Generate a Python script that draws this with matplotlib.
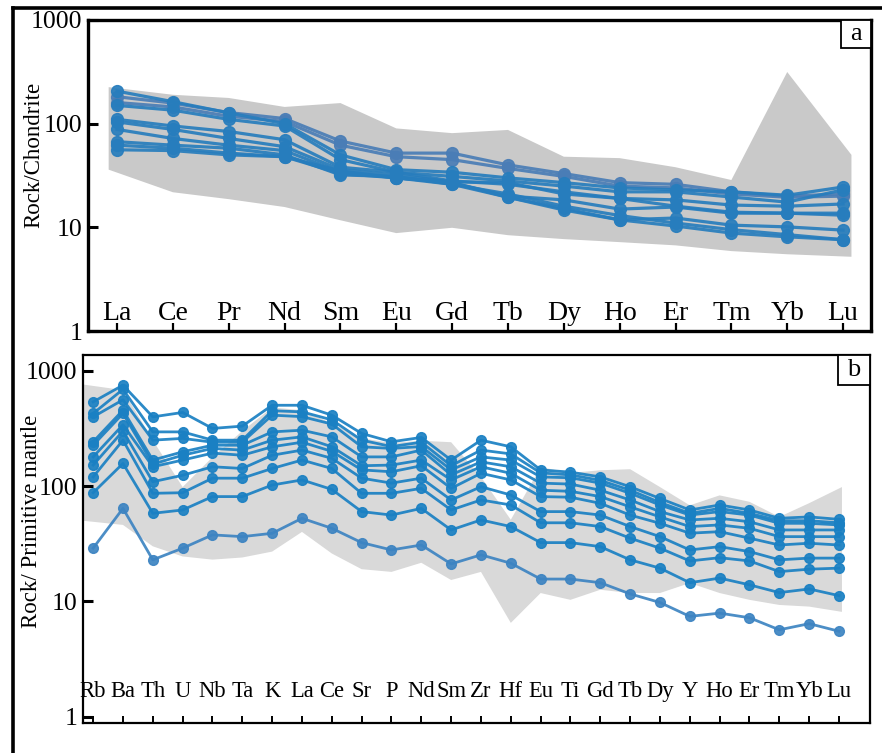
import numpy as np
import matplotlib
matplotlib.use("Agg")
import matplotlib.pyplot as plt
from matplotlib.lines import Line2D
from matplotlib.patches import Rectangle

plt.rcParams['font.family'] = ['Liberation Serif', 'DejaVu Serif']

# --- (a) Chondrite-normalised REE ---
ree = ["La", "Ce", "Pr", "Nd", "Sm", "Eu", "Gd", "Tb", "Dy", "Ho", "Er", "Tm", "Yb", "Lu"]

ree_env_hi = [225, 190, 177, 145, 158, 90, 81, 87, 48, 46.5, 38, 28.6, 315, 50]
ree_env_lo = [36, 21.8, 18.7, 15.7, 11.7, 8.8, 9.9, 8.4, 7.7, 7.2, 6.7, 5.9, 5.5, 5.2]

ree_samples = [
    [182, 158, 128, 112, 68, 52, 52, 40, 33, 27, 26, 22, 20, 21],
    [160, 145, 118, 105, 62, 48, 45, 37, 31, 25, 24, 21, 19.5, 20],
    [206, 163, 127, 100, 50, 36, 34, 30, 27, 24, 23, 22, 20.4, 24.5],
    [150, 135, 110, 95, 45, 34, 31, 28, 25, 22, 22, 19.6, 17.5, 23],
    [110, 95, 84, 70, 38, 34, 28, 26, 22, 19, 18.4, 16.4, 16, 16.8],
    [104, 88, 72, 60, 36, 32, 27.5, 27, 21, 19, 16, 14, 13.7, 13.7],
    [88, 72, 62, 55, 34, 30, 27, 20, 18.4, 15, 15.7, 13.7, 13.7, 13.1],
    [67, 62, 58, 50, 32, 31, 26, 19.5, 15.2, 11.8, 12.3, 10.5, 10.1, 9.4],
    [62, 58, 52, 48, 33, 30, 27, 19.5, 14.7, 11.8, 10.3, 8.8, 8.1, 7.6],
    [56, 55, 50, 48, 35, 30, 26, 21, 16, 13, 11, 9.5, 8.5, 7.6],
]
ree_colors = ["#4a7db6", "#4a7db6", "#277dbd", "#277dbd", "#277dbd",
              "#277dbd", "#277dbd", "#277dbd", "#277dbd", "#277dbd"]

# --- (b) Primitive-mantle-normalised spider diagram ---
spider = ["Rb", "Ba", "Th", "U", "Nb", "Ta", "K", "La", "Ce", "Sr", "P", "Nd", "Sm",
          "Zr", "Hf", "Eu", "Ti", "Gd", "Tb", "Dy", "Y", "Ho", "Er", "Tm", "Yb", "Lu"]

spider_env_hi = [760, 680, 250, 98, 178, 300, 480, 455, 350, 260, 236, 247, 240,
                 120, 51, 146, 130, 137, 140, 98, 68, 83, 73, 54, 71, 98]
spider_env_lo = [50, 46, 30, 24.5, 23, 24, 27, 40, 26, 19, 18, 21.6, 15.3,
                 18, 6.5, 11.8, 10.3, 12.6, 11.8, 11.8, 14.4, 11.8, 10.3, 9.3, 9, 8.1]

spider_samples = [
    [537, 750, 398, 435, 316, 331, 502, 502, 412, 286, 242, 264, 168, 250, 219, 138, 132, 120, 98.6, 78, 62, 68.5, 62, 52.5, 54, 51.4],
    [426, 690, 295, 295, 250, 250, 450, 440, 375, 250, 220, 240, 150, 205, 190, 130, 125, 112, 92, 72, 58, 64, 58, 50, 50, 48],
    [398, 560, 250, 259, 240, 240, 412, 400, 345, 219, 212, 220, 138, 179, 168, 120, 118, 106, 86.5, 68.5, 56, 60, 56, 47.5, 47.5, 46],
    [242, 455, 168, 198, 226, 226, 295, 305, 267, 179, 179, 205, 125, 162, 147, 106, 104, 92, 75.7, 60, 50.8, 52.5, 49, 41.6, 41.6, 41.6],
    [226, 426, 155, 185, 212, 205, 250, 267, 219, 150, 152, 168, 113, 147, 129, 92, 90, 81, 66, 54, 44.5, 46, 43, 36.4, 36.4, 36.4],
    [179, 340, 147, 168, 193, 185, 219, 240, 200, 138, 133, 150, 95.5, 129, 113, 81, 80, 70.8, 56, 47.5, 39, 40.2, 35.3, 30.8, 31.9, 30.8],
    [152, 300, 109, 124, 147, 142, 185, 205, 174, 117, 106, 117, 75.7, 98.6, 83.6, 60, 60, 56, 44.5, 36.4, 27.9, 29.8, 27, 22.9, 23.7, 23.7],
    [120, 250, 86.5, 87.5, 117, 117, 142, 168, 142, 86.5, 86.5, 95.5, 62, 75.7, 68.5, 48, 48, 44.5, 35.3, 28.9, 22.4, 23.9, 22.4, 18.1, 19, 19.4],
    [87.5, 157, 58, 62, 81, 81, 102, 113, 93.5, 60, 56, 64, 41.6, 50.8, 44.5, 32.3, 32.3, 29.8, 22.9, 19.4, 14.5, 15.9, 13.9, 11.9, 12.8, 11.2],
    [28.9, 64, 22.9, 28.9, 37.7, 36.4, 38.9, 52.5, 43, 32.3, 27.9, 30.8, 21.1, 25.3, 21.4, 15.6, 15.6, 14.5, 11.6, 9.77, 7.4, 7.9, 7.2, 5.66, 6.4, 5.5],
]
spider_colors = ["#1a80c3"] * 9 + ["#3d84c2"]


def style_axis(ax, labels, xlim, ylim, spine_w, tick_len_x, tick_w_x, lab_y, lab_size):
    ax.set_yscale("log")
    ax.set_xlim(*xlim)
    ax.set_ylim(*ylim)
    ax.set_xticks(np.arange(len(labels)))
    ax.set_xticklabels([])
    ax.set_yticks([1, 10, 100, 1000])
    ax.set_yticklabels(["1", "10", "100", "1000"])
    ax.yaxis.set_minor_locator(matplotlib.ticker.NullLocator())
    ax.tick_params(axis="x", direction="in", length=tick_len_x, width=tick_w_x,
                   bottom=True, top=False)
    ax.tick_params(axis="y", direction="in", length=7, width=2.2, pad=4,
                   labelsize=18.5, left=True, right=False)
    for s in ax.spines.values():
        s.set_linewidth(spine_w)
    for i, name in enumerate(labels):
        ax.text(i, lab_y, name, transform=ax.get_xaxis_transform(),
                ha="center", va="center", fontsize=lab_size)


def corner_box(ax, letter, w, h):
    ax.add_patch(Rectangle((1 - w, 1 - h), w, h, transform=ax.transAxes,
                           fc="white", ec="black", lw=1.3, zorder=5))
    ax.text(1 - w / 2, 1 - h / 2, letter, transform=ax.transAxes,
            ha="center", va="center", fontsize=19, zorder=6)


fig = plt.figure(figsize=(8.82, 7.53), dpi=100)

# panel a
ax1 = fig.add_axes([88 / 882, 1 - 331 / 753, 783 / 882, 311 / 753])
xa = np.arange(len(ree), dtype=float)
xa_env = xa.copy()
xa_env[0] -= 0.15
xa_env[-1] += 0.15
ax1.fill(np.r_[xa_env, xa_env[::-1]], np.r_[ree_env_hi, ree_env_lo[::-1]],
         color="#c9c9c9", lw=0, zorder=1)
for vals, c in zip(ree_samples, ree_colors):
    ax1.plot(xa, vals, "-o", color=c, lw=2.3, ms=8.5, mec=c, alpha=0.92, zorder=3)
style_axis(ax1, ree, (-0.52, 13.5), (1, 1000), 2.4, 6, 1.6, 0.055, 20)
ax1.text(-0.069, 0.566, "Rock/Chondrite", transform=ax1.transAxes, rotation=90,
         ha="center", va="center", fontsize=16.5)
corner_box(ax1, "a", 0.038, 0.09)

# panel b
ax2 = fig.add_axes([83 / 882, 1 - 723 / 753, 787 / 882, 368 / 753])
xb = np.arange(len(spider), dtype=float)
xb_env = xb.copy()
xb_env[0] = -0.34
xb_env[-1] += 0.1
ax2.fill(np.r_[xb_env, xb_env[::-1]], np.r_[spider_env_hi, spider_env_lo[::-1]],
         color="#d9d9d9", lw=0, zorder=1)
for vals, c in zip(spider_samples, spider_colors):
    ax2.plot(xb, vals, "-o", color=c, lw=2.0, ms=7, mec=c, alpha=0.92, zorder=3)
style_axis(ax2, spider, (-0.34, 26.04), (0.88, 1370), 1.6, 5, 1.4, 0.086, 16.3)
ax2.text(-0.066, 0.548, "Rock/ Primitive mantle", transform=ax2.transAxes,
         rotation=90, ha="center", va="center", fontsize=16.5)
corner_box(ax2, "b", 0.0407, 0.0815)

# outer frame (only left and top edges are inside the picture)
fx, fy = 13 / 882, 1 - 8 / 753
fig.add_artist(Line2D([fx, fx], [0, fy], color="black", lw=2.6))
fig.add_artist(Line2D([fx, 1], [fy, fy], color="black", lw=2.6))

fig.savefig("out.png", dpi=100)
